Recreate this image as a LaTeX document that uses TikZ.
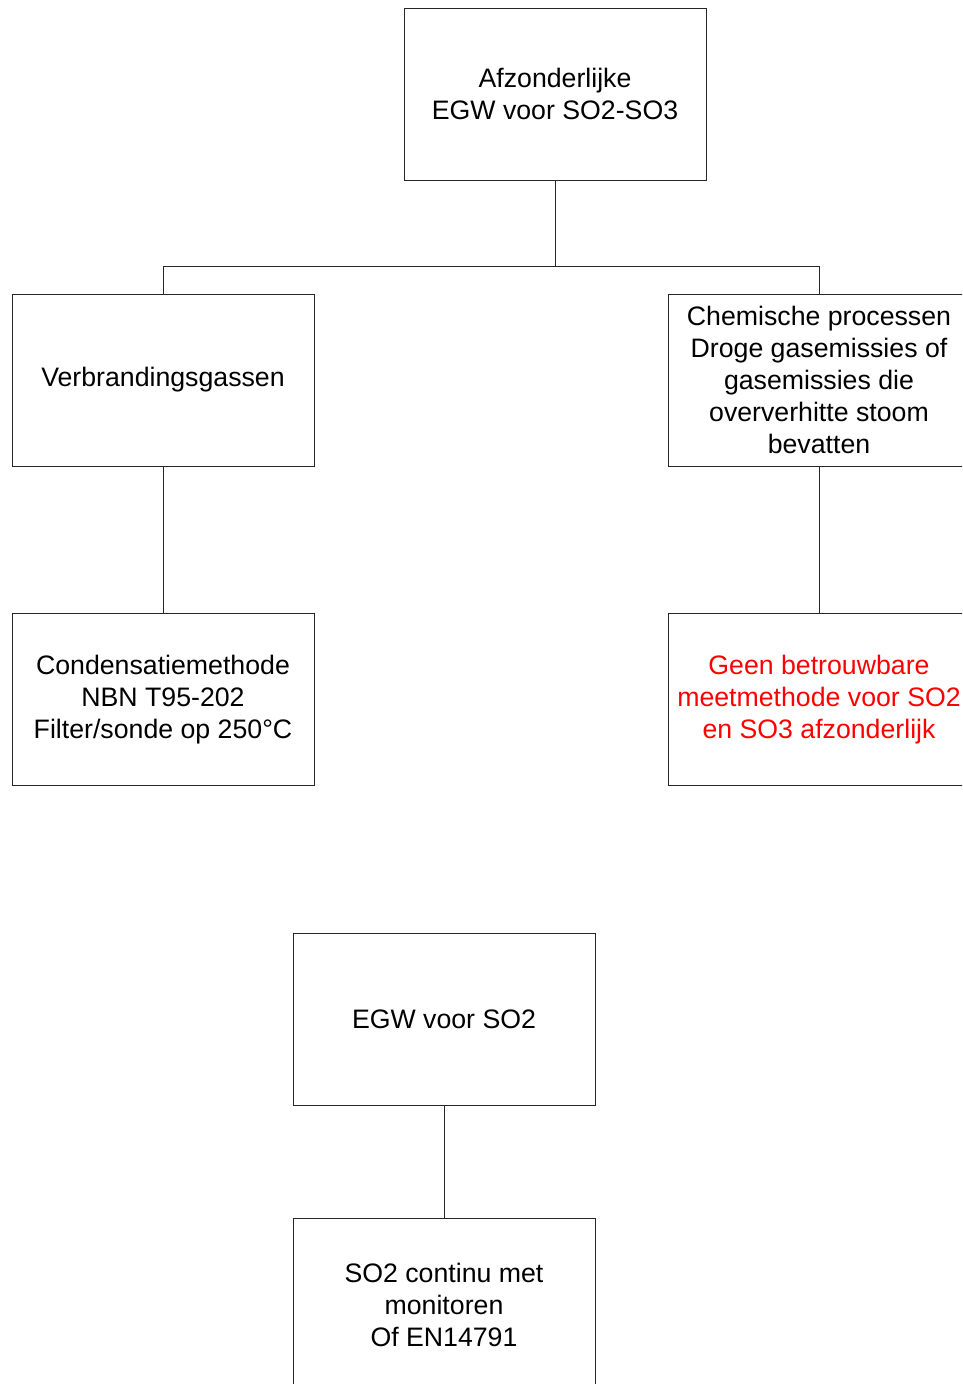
\documentclass[tikz,border=0pt]{standalone}
\usepackage{fontspec}
\setmainfont{Liberation Sans}
\usetikzlibrary{positioning}

\begin{document}
\begin{tikzpicture}[
    x=1pt, y=-1pt,
    font=\fontsize{26.7}{32}\selectfont,
    node distance=113pt and 0pt,
    box/.style={
        draw=black!85, line width=0.8pt,
        minimum width=302pt, minimum height=172pt, align=center, inner sep=2pt,
    },
    link/.style={draw=black!85, line width=0.8pt},
]
\clip (0,0) rectangle (962,1384);

\node[box] (egw) at (555,94) {Afzonderlijke\\EGW voor SO2-SO3};
\node[box] (verb) at (163,380) {Verbrandingsgassen};
\node[box] (chem) at (819,380) {Chemische processen\\Droge gasemissies of\\gasemissies die\\oververhitte stoom\\bevatten};
\node[box, below=147pt of verb] (cond) {Condensatiemethode\\NBN T95-202\\Filter/sonde op 250°C};
\node[box, below=147pt of chem, text=red] (geen) {Geen betrouwbare\\meetmethode voor SO2\\en SO3 afzonderlijk};

\node[box] (egwso2) at (444,1019) {EGW voor SO2};
\node[box, below=of egwso2] (cont) {SO2 continu met\\monitoren\\Of EN14791};

\coordinate (split) at (555,266);
\draw[link] (egw.south) -- (split) -| (verb.north);
\draw[link] (split) -| (chem.north);
\draw[link] (verb) -- (cond);
\draw[link] (chem) -- (geen);
\draw[link] (egwso2) -- (cont);

\end{tikzpicture}
\end{document}
